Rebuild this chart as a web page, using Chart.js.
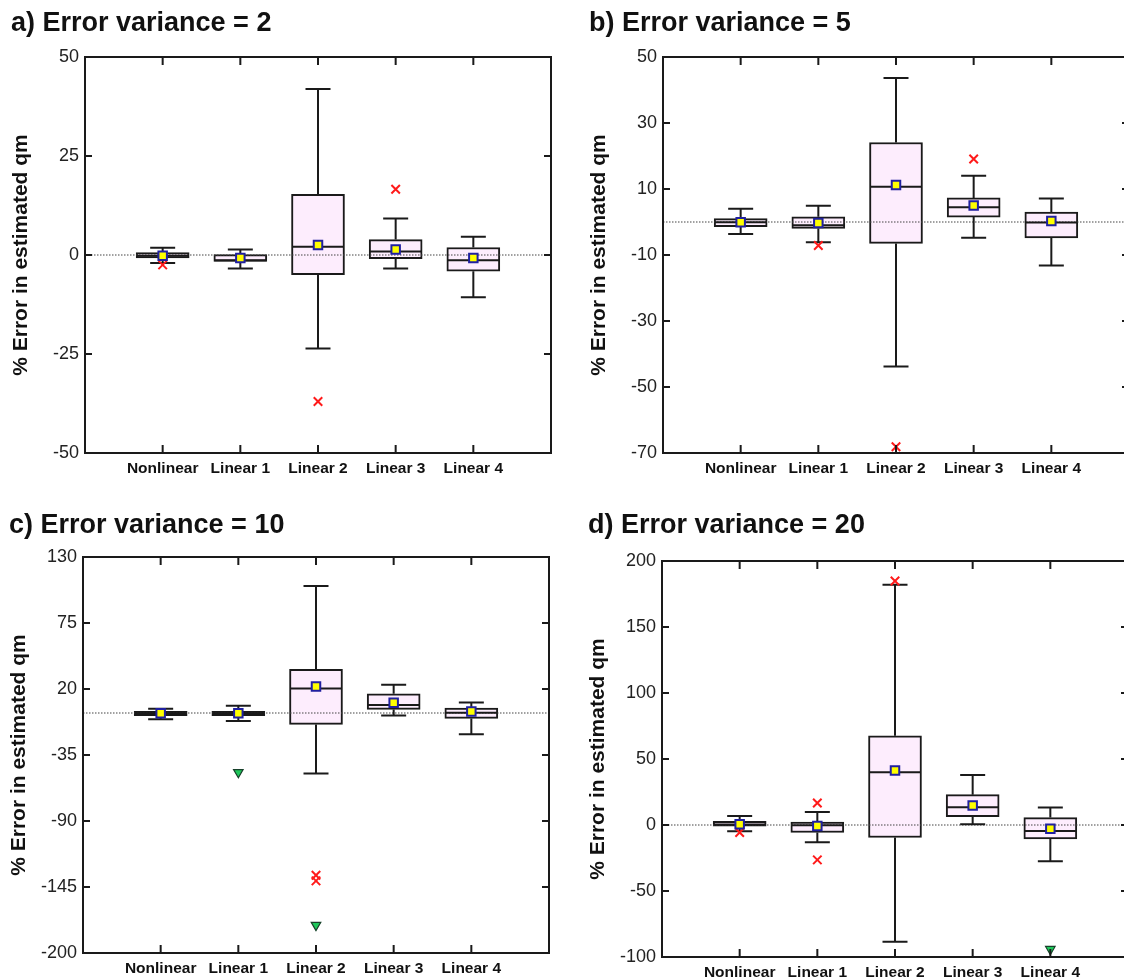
<!DOCTYPE html>
<html>
<head>
<meta charset="utf-8">
<title>% Error in estimated qm</title>
<script src="https://cdn.jsdelivr.net/npm/chart.js@4.4.1/dist/chart.umd.min.js"></script>
<style>
  html, body { margin: 0; padding: 0; background: #fff; overflow: hidden; width: 1124px; height: 979px; }
  canvas { position: absolute; }
</style>
</head>
<body>
<canvas id="chartA" width="562" height="483" style="left:0px;top:0px"></canvas>
<canvas id="chartB" width="562" height="483" style="left:578px;top:0px"></canvas>
<canvas id="chartC" width="562" height="483" style="left:-2px;top:500px"></canvas>
<canvas id="chartD" width="562" height="483" style="left:577px;top:504px"></canvas>
<script>
const categories = ["Nonlinear", "Linear 1", "Linear 2", "Linear 3", "Linear 4"];

// a) error variance = 2
const aTicks = [-50, -25, 0, 25, 50];
const aLow = [-2.0, -3.4, -23.6, -3.4, -10.7];
const aQ1 = [-0.75, -1.6, -4.95, -0.9, -4.1];
const aMedian = [-0.2, -1.3, 2.1, 0.9, -1.3];
const aQ3 = [0.6, 0.1, 15.3, 3.9, 1.9];
const aHigh = [1.8, 1.4, 41.9, 9.2, 4.6];
const aMean = [-0.2, -0.75, 2.5, 1.4, -0.75];
const aOutliers = [["Nonlinear", -2.5], ["Linear 2", -37.0], ["Linear 3", 16.6]];
const aExtremes = [];

// b) error variance = 5
const bTicks = [-70, -50, -30, -10, 10, 30, 50];
const bLow = [-3.65, -6.1, -43.8, -4.8, -13.2];
const bQ1 = [-1.45, -1.95, -6.5, 1.5, -4.85];
const bMedian = [-0.1, -0.95, 10.7, 4.5, -0.15];
const bQ3 = [1.0, 1.6, 24.1, 7.3, 3.0];
const bHigh = [4.0, 4.9, 43.6, 14.0, 7.1];
const bMean = [-0.1, -0.3, 11.2, 5.0, 0.3];
const bOutliers = [["Linear 1", -7.1], ["Linear 2", -68.1], ["Linear 3", 19.1]];
const bExtremes = [];

// c) error variance = 10
const cTicks = [-200, -145, -90, -35, 20, 75, 130];
const cLow = [-5.3, -6.7, -50.5, -2.0, -17.7];
const cQ1 = [-2.3, -2.3, -9.5, 3.0, -4.5];
const cMedian = [-0.3, -0.3, 20.5, 6.6, 0.2];
const cQ3 = [1.3, 1.3, 36.3, 16.0, 4.1];
const cHigh = [3.5, 6.0, 105.8, 23.5, 8.8];
const cMean = [-0.3, -0.3, 22.1, 8.5, 1.3];
const cOutliers = [["Linear 2", -135.2], ["Linear 2", -139.9]];
const cExtremes = [["Linear 1", -49.4], ["Linear 2", -176.8]];

// d) error variance = 20
const dTicks = [-100, -50, 0, 50, 100, 150, 200];
const dLow = [-4.7, -13.0, -88.4, 0.6, -27.5];
const dQ1 = [-0.9, -5.7, -9.5, 6.4, -10.5];
const dMedian = [0.4, -0.2, 39.9, 13.4, -4.5];
const dQ3 = [2.85, 2.3, 67.6, 23.0, 5.6];
const dHigh = [6.9, 9.9, 182.0, 37.9, 13.2];
const dMean = [0.6, -0.7, 41.2, 14.7, -2.9];
const dOutliers = [["Nonlinear", -5.7], ["Linear 1", 16.7], ["Linear 1", -26.4], ["Linear 2", 184.8]];
const dExtremes = [["Linear 4", -94.1]];

const fontFamily = "'Liberation Sans', Arial, Helvetica, sans-serif";
const ink = "#1a1a1a";

function points(list) {
    return list.map(p => ({ x: p[0], y: p[1] }));
}

// whiskers, medians, zero line, frame and inward ticks
function boxExtras(stats) {
    return {
        id: "boxExtras",
        afterDatasetDraw(chart, args) {
            if (args.index !== 0) return;
            const ctx = chart.ctx;
            const area = chart.chartArea;
            const x = chart.scales.x, y = chart.scales.y;
            ctx.save();
            // dotted zero line
            const y0 = y.getPixelForValue(0);
            ctx.strokeStyle = "#444";
            ctx.lineWidth = 1.2;
            ctx.setLineDash([1.5, 1.5]);
            ctx.beginPath();
            ctx.moveTo(area.left, y0);
            ctx.lineTo(area.right, y0);
            ctx.stroke();
            ctx.setLineDash([]);

            ctx.strokeStyle = ink;
            ctx.lineWidth = 2;
            const half = 26, cap = 12.5;
            categories.forEach((c, i) => {
                const px = x.getPixelForValue(i + 1);
                const hi = y.getPixelForValue(stats.high[i]);
                const lo = y.getPixelForValue(stats.low[i]);
                const q1 = y.getPixelForValue(stats.q1[i]);
                const q3 = y.getPixelForValue(stats.q3[i]);
                const md = y.getPixelForValue(stats.median[i]);
                ctx.beginPath();
                ctx.moveTo(px, hi); ctx.lineTo(px, q3);
                ctx.moveTo(px, q1); ctx.lineTo(px, lo);
                ctx.moveTo(px - cap, hi); ctx.lineTo(px + cap, hi);
                ctx.moveTo(px - cap, lo); ctx.lineTo(px + cap, lo);
                ctx.moveTo(px - half, md); ctx.lineTo(px + half, md);
                ctx.stroke();
            });
            ctx.restore();
        },
        afterDraw(chart) {
            const ctx = chart.ctx;
            const area = chart.chartArea;
            const x = chart.scales.x, y = chart.scales.y;
            ctx.save();
            ctx.strokeStyle = ink;
            ctx.lineWidth = 2;
            ctx.strokeRect(area.left, area.top, area.right - area.left, area.bottom - area.top);
            ctx.beginPath();
            categories.forEach((c, i) => {
                const px = x.getPixelForValue(i + 1);
                ctx.moveTo(px, area.top); ctx.lineTo(px, area.top + 8);
                ctx.moveTo(px, area.bottom); ctx.lineTo(px, area.bottom - 8);
            });
            stats.ticks.forEach(v => {
                const py = y.getPixelForValue(v);
                ctx.moveTo(area.left, py); ctx.lineTo(area.left + 7, py);
                ctx.moveTo(area.right, py); ctx.lineTo(area.right - 7, py);
            });
            ctx.stroke();
            ctx.restore();
        }
    };
}

function makePanel(canvasId, title, titlePad, yTicks, low, q1, median, q3, high, mean, outliers, extremes) {
    const ctx = document.getElementById(canvasId).getContext("2d");
    return new Chart(ctx, {
        type: "bar",
        data: {
            labels: ["", ...categories, ""],
            datasets: [
                {
                    type: "bar",
                    data: [null, ...q1.map((v, i) => [v, q3[i]]), null],
                    backgroundColor: "#fdedfd",
                    borderColor: ink,
                    borderWidth: 2,
                    borderSkipped: false,
                    barThickness: 53,
                    order: 10
                },
                {
                    type: "scatter",
                    data: categories.map((c, i) => ({ x: c, y: mean[i] })),
                    pointStyle: "rect",
                    pointRadius: 6,
                    backgroundColor: "#ffff00",
                    borderColor: "#2020a0",
                    borderWidth: 2,
                    order: 1
                },
                {
                    type: "scatter",
                    data: points(outliers),
                    pointStyle: "crossRot",
                    pointRadius: 6,
                    borderColor: "#ff1a1a",
                    borderWidth: 2,
                    order: 2
                },
                {
                    type: "scatter",
                    data: points(extremes),
                    pointStyle: "triangle",
                    rotation: 180,
                    pointRadius: 5.5,
                    backgroundColor: "#1ec85a",
                    borderColor: "#17402a",
                    borderWidth: 1.2,
                    order: 2
                }
            ]
        },
        options: {
            responsive: false,
            animation: false,
            devicePixelRatio: 1,
            layout: { padding: { left: 11, right: 11, top: 0, bottom: 0 } },
            plugins: {
                legend: { display: false },
                tooltip: { enabled: false },
                title: {
                    display: true,
                    text: title,
                    align: "start",
                    color: "#111",
                    font: { family: fontFamily, size: 27, weight: "bold", lineHeight: 1 },
                    padding: { top: titlePad, bottom: 30 - titlePad }
                }
            },
            scales: {
                x: {
                    type: "category",
                    offset: false,
                    grid: { display: false, drawTicks: false },
                    border: { display: false },
                    ticks: {
                        autoSkip: false,
                        maxRotation: 0,
                        padding: 6,
                        color: "#111",
                        font: { family: fontFamily, size: 15.5, weight: "bold" }
                    },
                    afterFit(scale) { scale.height = 30; }
                },
                y: {
                    min: yTicks[0],
                    max: yTicks[yTicks.length - 1],
                    grid: { display: false, drawTicks: false },
                    border: { display: false },
                    ticks: {
                        padding: 6,
                        color: "#222",
                        font: { family: fontFamily, size: 18 },
                        callback: v => String(v)
                    },
                    afterBuildTicks(scale) { scale.ticks = yTicks.map(v => ({ value: v })); },
                    afterFit(scale) { scale.width = 74; },
                    title: {
                        display: true,
                        text: "% Error in estimated qm",
                        color: "#111",
                        font: { family: fontFamily, size: 21, weight: "bold", lineHeight: 1 },
                        padding: { top: 0, bottom: 0 }
                    }
                }
            }
        },
        plugins: [boxExtras({ low, q1, median, q3, high, ticks: yTicks })]
    });
}

makePanel("chartA", "a) Error variance = 2", 10, aTicks, aLow, aQ1, aMedian, aQ3, aHigh, aMean, aOutliers, aExtremes);
makePanel("chartB", "b) Error variance = 5", 10, bTicks, bLow, bQ1, bMedian, bQ3, bHigh, bMean, bOutliers, bExtremes);
makePanel("chartC", "c) Error variance = 10", 12, cTicks, cLow, cQ1, cMedian, cQ3, cHigh, cMean, cOutliers, cExtremes);
makePanel("chartD", "d) Error variance = 20", 8, dTicks, dLow, dQ1, dMedian, dQ3, dHigh, dMean, dOutliers, dExtremes);
</script>
</body>
</html>
